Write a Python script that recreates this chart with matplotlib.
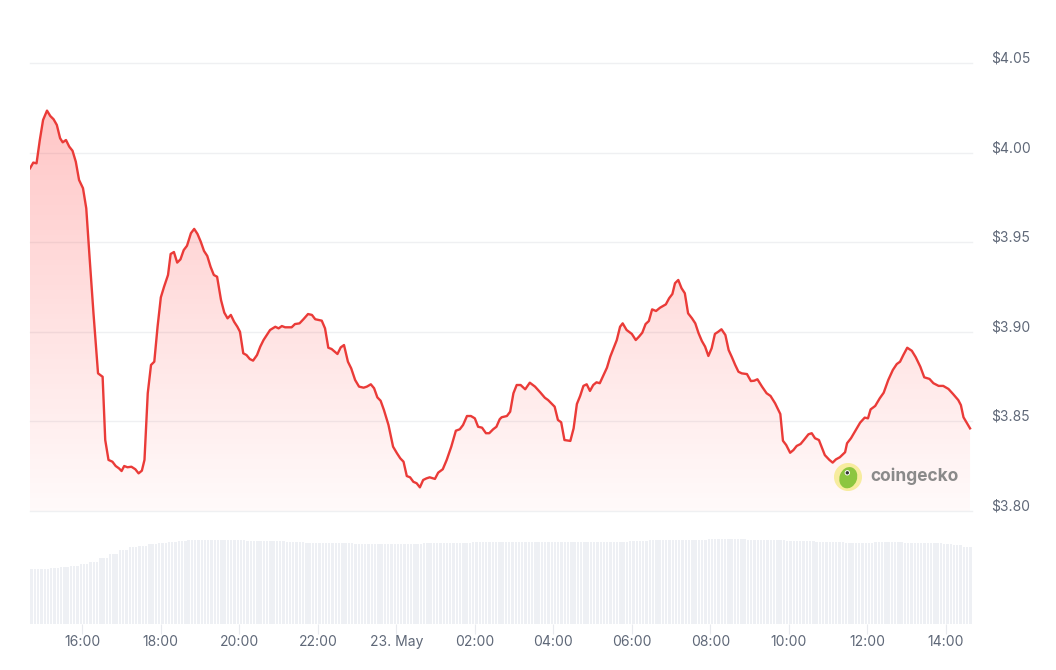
import matplotlib
matplotlib.use('Agg')
import matplotlib.pyplot as plt
import matplotlib.dates as mdates
import matplotlib.transforms as mtransforms
import numpy as np
from datetime import datetime, timedelta
from matplotlib.patches import Polygon, Circle, Ellipse

plt.rcParams['font.family'] = ['Inter', 'DejaVu Sans']

# ---------------- data ----------------
start = datetime(2024, 5, 22, 14, 40)

minutes = [0, 5, 10, 15, 20, 26, 31, 36, 41, 46, 50, 55, 60, 65, 70, 75, 81, 86, 91, 97,
           104, 111, 115, 120, 126, 131, 136, 140, 144, 149, 155, 161, 166, 171, 175, 180, 185, 190, 195, 200,
           205, 211, 215, 220, 225, 230, 235, 240, 246, 251, 256, 261, 266, 271, 276, 281, 286, 292, 297, 302,
           307, 312, 317, 321, 326, 331, 336, 341, 347, 352, 357, 362, 367, 375, 380, 385, 390, 400, 405, 412,
           418, 425, 431, 436, 446, 451, 456, 461, 470, 475, 480, 486, 491, 497, 503, 510, 515, 521, 526, 531,
           536, 541, 548, 555, 561, 566, 571, 576, 581, 586, 591, 596, 601, 606, 611, 619, 624, 631, 637, 644,
           651, 657, 662, 668, 674, 680, 685, 691, 697, 702, 708, 713, 718, 721, 729, 734, 739, 744, 750, 757,
           764, 772, 780, 787, 792, 802, 807, 812, 817, 826, 831, 836, 841, 846, 851, 856, 861, 866, 871, 876,
           882, 887, 892, 897, 902, 906, 912, 920, 926, 931, 936, 941, 946, 951, 957, 963, 972, 977, 982, 986,
           991, 996, 1001, 1006, 1012, 1017, 1022, 1027, 1032, 1037, 1042, 1047, 1052, 1057, 1063, 1068, 1073, 1078, 1083, 1088,
           1096, 1102, 1107, 1112, 1119, 1126, 1132, 1139, 1147, 1151, 1156, 1162, 1167, 1172, 1178, 1183, 1190, 1195, 1200, 1206,
           1210, 1215, 1222, 1227, 1232, 1238, 1246, 1249, 1255, 1261, 1269, 1276, 1281, 1285, 1292, 1299, 1305, 1312, 1319, 1325,
           1330, 1335, 1341, 1348, 1354, 1361, 1367, 1375, 1381, 1389, 1396, 1404, 1411, 1419, 1423, 1427, 1431, 1437]

prices = [3.9912, 3.9944, 3.9940, 4.0070, 4.0182, 4.0234, 4.0204, 4.0186, 4.0154, 4.0080,
          4.0057, 4.0070, 4.0033, 4.0010, 3.9949, 3.9847, 3.9801, 3.9689, 3.9419, 3.9105,
          3.8768, 3.8749, 3.8396, 3.8285, 3.8275, 3.8251, 3.8238, 3.8223, 3.8251, 3.8244,
          3.8247, 3.8233, 3.8210, 3.8225, 3.8285, 3.8657, 3.8815, 3.8833, 3.9028, 3.9192,
          3.9252, 3.9317, 3.9434, 3.9445, 3.9386, 3.9404, 3.9456, 3.9480, 3.9550, 3.9574,
          3.9546, 3.9503, 3.9451, 3.9423, 3.9363, 3.9317, 3.9307, 3.9177, 3.9107, 3.9075,
          3.9094, 3.9056, 3.9028, 3.9000, 3.8880, 3.8870, 3.8848, 3.8839, 3.8870, 3.8917,
          3.8954, 3.8982, 3.9010, 3.9028, 3.9019, 3.9032, 3.9025, 3.9025, 3.9043, 3.9047,
          3.9070, 3.9099, 3.9094, 3.9070, 3.9062, 3.9019, 3.8911, 3.8904, 3.8876, 3.8913,
          3.8926, 3.8833, 3.8796, 3.8731, 3.8694, 3.8688, 3.8694, 3.8707, 3.8685, 3.8634,
          3.8615, 3.8564, 3.8480, 3.8359, 3.8322, 3.8294, 3.8275, 3.8195, 3.8188, 3.8163,
          3.8155, 3.8132, 3.8173, 3.8182, 3.8188, 3.8179, 3.8214, 3.8233, 3.8285, 3.8359,
          3.8448, 3.8456, 3.8480, 3.8530, 3.8530, 3.8517, 3.8470, 3.8465, 3.8434, 3.8434,
          3.8456, 3.8470, 3.8512, 3.8523, 3.8530, 3.8554, 3.8657, 3.8703, 3.8703, 3.8679,
          3.8716, 3.8694, 3.8662, 3.8632, 3.8619, 3.8582, 3.8508, 3.8495, 3.8396, 3.8391,
          3.8461, 3.8597, 3.8642, 3.8698, 3.8707, 3.8670, 3.8703, 3.8718, 3.8713, 3.8753,
          3.8800, 3.8861, 3.8908, 3.8954, 3.9028, 3.9047, 3.9010, 3.8988, 3.8954, 3.8973,
          3.8995, 3.9043, 3.9060, 3.9125, 3.9116, 3.9134, 3.9153, 3.9187, 3.9211, 3.9271,
          3.9289, 3.9243, 3.9215, 3.9103, 3.9075, 3.9047, 3.8992, 3.8949, 3.8917, 3.8865,
          3.8908, 3.8988, 3.9000, 3.9014, 3.8982, 3.8898, 3.8858, 3.8815, 3.8777, 3.8768,
          3.8764, 3.8725, 3.8727, 3.8735, 3.8694, 3.8657, 3.8642, 3.8601, 3.8541, 3.8392,
          3.8368, 3.8325, 3.8340, 3.8363, 3.8374, 3.8396, 3.8428, 3.8434, 3.8406, 3.8396,
          3.8359, 3.8312, 3.8285, 3.8270, 3.8288, 3.8300, 3.8328, 3.8378, 3.8406, 3.8443,
          3.8493, 3.8521, 3.8517, 3.8567, 3.8586, 3.8629, 3.8660, 3.8731, 3.8787, 3.8820,
          3.8833, 3.8870, 3.8911, 3.8894, 3.8858, 3.8805, 3.8746, 3.8737, 3.8713, 3.8698,
          3.8698, 3.8681, 3.8653, 3.8619, 3.8591, 3.8523, 3.8498, 3.8461]

# volume (relative units, one value per 15 minutes)
volume_15m = [55, 55, 56, 57, 58, 60, 62, 66, 70, 74, 77, 78, 80, 81, 82, 83,
              84, 84, 84, 84, 84, 84, 83, 83, 83, 83,
              82, 82, 81, 81, 81, 81, 81, 80, 80, 80, 80, 80,
              80, 80, 81, 81, 81, 81, 81, 82,
              82, 82, 82, 82, 82, 82, 82, 82, 82, 82, 82, 82, 82, 82, 82,
              83, 83, 84, 84, 84, 84, 84, 84, 85, 85, 85, 85, 84, 84, 84, 84,
              83, 83, 83, 82, 82,
              82, 81, 81, 81, 82, 82, 82, 81, 81, 81, 81,
              80, 79, 77]

tick_times = ["2024-05-22 16:00", "2024-05-22 18:00", "2024-05-22 20:00", "2024-05-22 22:00",
              "2024-05-23 00:00", "2024-05-23 02:00", "2024-05-23 04:00", "2024-05-23 06:00",
              "2024-05-23 08:00", "2024-05-23 10:00", "2024-05-23 12:00", "2024-05-23 14:00"]
tick_labels = ["16:00", "18:00", "20:00", "22:00", "23. May", "02:00", "04:00", "06:00",
               "08:00", "10:00", "12:00", "14:00"]
price_ticks = [3.80, 3.85, 3.90, 3.95, 4.00, 4.05]
price_labels = ["$3.80", "$3.85", "$3.90", "$3.95", "$4.00", "$4.05"]

# ---------------- figure ----------------
W, H = 1056, 670
fig = plt.figure(figsize=(W / 100, H / 100), dpi=100)

def fx(px):
    return px / W

def fy(py):
    return 1 - py / H

left, right = 30, 972
ax = fig.add_axes([fx(left), fy(511), fx(right - left), (511 - 40) / H])
axv = fig.add_axes([fx(left), fy(624), fx(right - left), (624 - 520) / H])

x = mdates.date2num([start + timedelta(minutes=m) for m in minutes])
x0 = mdates.date2num(start)
x1 = mdates.date2num(start + timedelta(minutes=1440))
ymin, ymax = 3.80, 4.0628

# gridlines
for t in price_ticks:
    ax.axhline(t, color='#eff0f2', lw=1.0, zorder=0, clip_on=False)

# gradient fill
grad = np.linspace(0, 1, 256)[:, None]
rgba = np.zeros((256, 1, 4))
rgba[..., 0] = 1.0
rgba[..., 1] = 0.36
rgba[..., 2] = 0.36
rgba[..., 3] = (0.03 + 0.37 * grad[::-1])[:, :]
img = ax.imshow(rgba, extent=[x0, x1, ymin, ymax], aspect='auto', origin='upper',
                zorder=1, interpolation='bilinear')
poly_xy = np.column_stack([np.concatenate([[x[0]], x, [x[-1]]]),
                           np.concatenate([[ymin], prices, [ymin]])])
poly = Polygon(poly_xy, closed=True, facecolor='none', edgecolor='none',
               transform=ax.transData)
ax.add_patch(poly)
img.set_clip_path(poly)

ax.plot(x, prices, color='#ea3b38', lw=1.7, zorder=3, solid_joinstyle='round')

ax.set_xlim(x0, x1)
ax.set_ylim(ymin, ymax)
ax.set_xticks([])
ax.yaxis.tick_right()
ax.set_yticks(price_ticks)
ax.set_yticklabels(price_labels)
ax.tick_params(axis='y', length=0, pad=14, labelsize=10, labelcolor='#5f6878')
shift = mtransforms.ScaledTranslation(0, 6 / 100, fig.dpi_scale_trans)
for lab in ax.get_yticklabels():
    lab.set_transform(lab.get_transform() + shift)
for s in ax.spines.values():
    s.set_visible(False)
ax.patch.set_alpha(0)

# volume bars
vol = np.repeat(volume_15m, 3)
bar_t = mdates.date2num([start + timedelta(minutes=5 * k + 2.5) for k in range(len(vol))])
axv.bar(bar_t, vol, width=5 / 1440 * 0.72, color='#eef0f4', linewidth=0)
axv.set_xlim(x0, x1)
axv.set_ylim(0, 104)
axv.set_yticks([])
axv.set_xticks(mdates.date2num([datetime.strptime(t, "%Y-%m-%d %H:%M") for t in tick_times]))
axv.set_xticklabels(tick_labels)
axv.tick_params(axis='x', length=7, width=0.8, color='#e8eaee', pad=1,
                labelsize=10, labelcolor='#5f6878')
for s in axv.spines.values():
    s.set_visible(False)
axv.patch.set_alpha(0)

# watermark
axl = fig.add_axes([fx(834), fy(491), fx(28), 28 / H])
axl.set_xlim(-1, 1)
axl.set_ylim(-1, 1)
axl.set_aspect('equal')
axl.axis('off')
axl.add_patch(Circle((0, 0), 0.95, color='#f7ec9e'))
axl.add_patch(Ellipse((0.02, -0.05), 1.15, 1.45, angle=-20, color='#8cc63f'))
axl.add_patch(Circle((-0.05, 0.3), 0.14, color='white'))
axl.add_patch(Circle((-0.05, 0.3), 0.07, color='#333333'))
fig.text(fx(870), fy(476), "coingecko", fontsize=12.5, fontweight='bold',
         color='#8a8a8a', va='center', ha='left')

fig.savefig('out.png', dpi=100)
